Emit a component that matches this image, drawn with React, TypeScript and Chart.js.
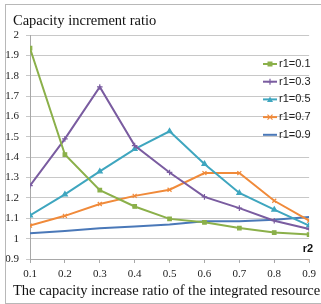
import React, { useEffect, useRef } from "react";
import { Chart, registerables } from "chart.js";

Chart.register(...registerables);

const r2Values = [0.1, 0.2, 0.3, 0.4, 0.5, 0.6, 0.7, 0.8, 0.9];
const seriesLabels = ["r1=0.1", "r1=0.3", "r1=0.5", "r1=0.7", "r1=0.9"];
const r1_01 = [1.935, 1.413, 1.238, 1.158, 1.097, 1.08, 1.052, 1.03, 1.02];
const r1_03 = [1.26, 1.49, 1.745, 1.457, 1.325, 1.205, 1.15, 1.088, 1.047];
const r1_05 = [1.114, 1.217, 1.33, 1.44, 1.527, 1.367, 1.224, 1.142, 1.064];
const r1_07 = [1.064, 1.112, 1.17, 1.21, 1.24, 1.322, 1.322, 1.186, 1.088];
const r1_09 = [1.027, 1.038, 1.051, 1.06, 1.07, 1.085, 1.085, 1.093, 1.106];
const colors = ["#8BB04A", "#7A5CA0", "#3FA6BF", "#F08A3A", "#4A78B8"];
const markers = ["rect", "cross", "triangle", "crossRot", "none"];
const yTitle = "Capacity increment ratio";
const xTitle = "The capacity increase ratio of the integrated resource";
const xUnit = "r2";

function drawMarker(ctx: CanvasRenderingContext2D, style: string, x: number, y: number, color: string) {
  ctx.save();
  ctx.fillStyle = color;
  ctx.strokeStyle = color;
  ctx.lineWidth = 1.2;
  if (style === "rect") {
    ctx.fillRect(x - 2.5, y - 2.5, 5, 5);
  } else if (style === "triangle") {
    ctx.beginPath();
    ctx.moveTo(x, y - 3);
    ctx.lineTo(x + 3, y + 2.5);
    ctx.lineTo(x - 3, y + 2.5);
    ctx.closePath();
    ctx.fill();
  } else if (style === "cross") {
    ctx.beginPath();
    ctx.moveTo(x - 3, y);
    ctx.lineTo(x + 3, y);
    ctx.moveTo(x, y - 3);
    ctx.lineTo(x, y + 3);
    ctx.stroke();
  } else if (style === "crossRot") {
    ctx.beginPath();
    ctx.moveTo(x - 2.5, y - 2.5);
    ctx.lineTo(x + 2.5, y + 2.5);
    ctx.moveTo(x + 2.5, y - 2.5);
    ctx.lineTo(x - 2.5, y + 2.5);
    ctx.stroke();
  }
  ctx.restore();
}

const decorPlugin = {
  id: "decor",
  afterDraw(chart: any) {
    const ctx: CanvasRenderingContext2D = chart.ctx;
    ctx.save();
    ctx.strokeStyle = "#b8b8b8";
    ctx.lineWidth = 1;
    ctx.strokeRect(5.5, 4.5, 316, 299);
    ctx.fillStyle = "#111";
    ctx.font = "14.5px 'Liberation Serif'";
    ctx.textAlign = "left";
    ctx.textBaseline = "alphabetic";
    ctx.fillText(yTitle, 13, 25);
    ctx.fillText(xTitle, 13, 295);
    ctx.font = "bold 11px 'Liberation Sans'";
    ctx.textAlign = "center";
    ctx.fillText(xUnit, 308, 252);
    ctx.font = "11px 'Liberation Sans'";
    ctx.textAlign = "left";
    ctx.textBaseline = "middle";
    chart.data.datasets.forEach((ds: any, i: number) => {
      const y = 64 + i * 17.7;
      ctx.strokeStyle = colors[i];
      ctx.lineWidth = 2;
      ctx.beginPath();
      ctx.moveTo(263, y);
      ctx.lineTo(277, y);
      ctx.stroke();
      drawMarker(ctx, markers[i], 270, y, colors[i]);
      ctx.fillStyle = "#222";
      ctx.fillText(ds.label, 279, y);
    });
    ctx.restore();
  },
};

export default function App() {
  const ref = useRef<HTMLCanvasElement>(null);
  useEffect(() => {
    if (!ref.current) return;
    const all = [r1_01, r1_03, r1_05, r1_07, r1_09];
    const chart = new Chart(ref.current, {
      type: "line",
      data: {
        datasets: all.map((vals, i) => ({
          label: seriesLabels[i],
          data: r2Values.map((x, j) => ({ x, y: vals[j] })),
          borderColor: colors[i],
          backgroundColor: colors[i],
          borderWidth: 2,
          pointStyle: markers[i] === "none" ? false : (markers[i] as any),
          pointRadius: markers[i] === "rect" ? 2.5 : 2.8,
          pointBorderWidth: 1.2,
          tension: 0,
        })),
      },
      options: {
        responsive: false,
        animation: false,
        layout: { padding: { top: 35, right: 6, left: 0, bottom: 0 } },
        plugins: { legend: { display: false }, title: { display: false }, tooltip: { enabled: false } },
        scales: {
          x: {
            type: "linear",
            min: 0.1,
            max: 0.9,
            afterFit: (s: any) => { s.height = 45; },
            ticks: {
              stepSize: 0.1,
              padding: 5,
              color: "#222",
              font: { family: "'Liberation Serif'", size: 11 },
              callback: (v: any) => Number(v).toFixed(1),
            },
            grid: { drawOnChartArea: false, drawTicks: true, tickLength: 4, color: "#a8a8a8" },
            border: { display: true, color: "#a8a8a8" },
          },
          y: {
            min: 0.9,
            max: 2,
            afterFit: (s: any) => { s.width = 30; },
            ticks: {
              stepSize: 0.1,
              padding: 7,
              color: "#222",
              font: { family: "'Liberation Serif'", size: 11 },
              callback: (v: any) => {
                const n = Math.round(Number(v) * 10) / 10;
                return Number.isInteger(n) ? String(n) : n.toFixed(1);
              },
            },
            grid: { color: "#c8c8c8", tickLength: 4, drawTicks: true },
            border: { display: true, color: "#a8a8a8" },
          },
        },
      },
      plugins: [decorPlugin],
    });
    return () => chart.destroy();
  }, []);
  return (
    <canvas
      ref={ref}
      width={321}
      height={304}
      style={{ position: "absolute", left: 0, top: 0, width: 321, height: 304 }}
    />
  );
}
